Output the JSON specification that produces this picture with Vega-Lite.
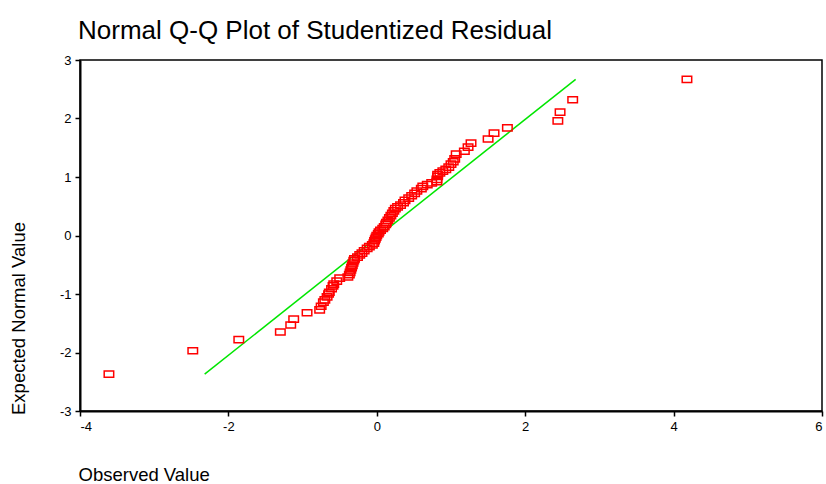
{
  "$schema": "https://vega.github.io/schema/vega-lite/v6.json",
  "width": 742,
  "height": 351,
  "autosize": {"type": "none"},
  "padding": {"left": 80, "top": 60, "right": 4, "bottom": 73},
  "background": "white",
  "config": {
    "font": "Liberation Sans",
    "view": {"stroke": "#000", "strokeWidth": 1.5},
    "axis": {"grid": false, "domainColor": "#000", "domainWidth": 2, "tickColor": "#000", "tickWidth": 1.5, "tickSize": 5, "labelColor": "#000", "labelFontSize": 13, "labelFont": "Liberation Sans", "titleFont": "Liberation Sans", "titleFontWeight": "normal", "titleFontSize": 18.5, "titleColor": "#000", "labelPadding": 4, "labelExpr": "toString(datum.value)"}
  },
  "title": {"text": "Normal Q-Q Plot of Studentized Residual", "anchor": "start", "frame": "group", "fontSize": 26, "fontWeight": "normal", "font": "Liberation Sans", "color": "#000", "baseline": "alphabetic", "offset": -11, "dx": -2},
  "datasets": {
    "pts": [
      {"obs": -3.61, "exp": -2.37}, {"obs": -2.48, "exp": -1.97}, {"obs": -1.86, "exp": -1.78}, {"obs": -1.30, "exp": -1.65},
      {"obs": -1.16, "exp": -1.53}, {"obs": -1.12, "exp": -1.43}, {"obs": -0.94, "exp": -1.32}, {"obs": -0.77, "exp": -1.27},
      {"obs": -0.75, "exp": -1.21}, {"obs": -0.72, "exp": -1.14}, {"obs": -0.70, "exp": -1.10}, {"obs": -0.67, "exp": -1.05},
      {"obs": -0.65, "exp": -1.00}, {"obs": -0.64, "exp": -0.97}, {"obs": -0.61, "exp": -0.91}, {"obs": -0.59, "exp": -0.86},
      {"obs": -0.58, "exp": -0.83}, {"obs": -0.54, "exp": -0.78}, {"obs": -0.50, "exp": -0.73}, {"obs": -0.39, "exp": -0.71},
      {"obs": -0.37, "exp": -0.67}, {"obs": -0.36, "exp": -0.63}, {"obs": -0.35, "exp": -0.59}, {"obs": -0.34, "exp": -0.55},
      {"obs": -0.33, "exp": -0.51}, {"obs": -0.32, "exp": -0.47}, {"obs": -0.31, "exp": -0.43}, {"obs": -0.30, "exp": -0.40},
      {"obs": -0.26, "exp": -0.37}, {"obs": -0.23, "exp": -0.33}, {"obs": -0.20, "exp": -0.30}, {"obs": -0.17, "exp": -0.26},
      {"obs": -0.13, "exp": -0.22}, {"obs": -0.10, "exp": -0.19}, {"obs": -0.06, "exp": -0.16}, {"obs": -0.04, "exp": -0.13},
      {"obs": -0.03, "exp": -0.09}, {"obs": -0.02, "exp": -0.06}, {"obs": -0.01, "exp": -0.03}, {"obs": 0.00, "exp": 0.00},
      {"obs": 0.02, "exp": 0.03}, {"obs": 0.03, "exp": 0.06}, {"obs": 0.05, "exp": 0.09}, {"obs": 0.08, "exp": 0.12},
      {"obs": 0.10, "exp": 0.15}, {"obs": 0.12, "exp": 0.19}, {"obs": 0.13, "exp": 0.22}, {"obs": 0.15, "exp": 0.26},
      {"obs": 0.17, "exp": 0.30}, {"obs": 0.19, "exp": 0.34}, {"obs": 0.21, "exp": 0.38}, {"obs": 0.23, "exp": 0.42},
      {"obs": 0.25, "exp": 0.46}, {"obs": 0.28, "exp": 0.49}, {"obs": 0.32, "exp": 0.52}, {"obs": 0.36, "exp": 0.56},
      {"obs": 0.38, "exp": 0.60}, {"obs": 0.43, "exp": 0.64}, {"obs": 0.47, "exp": 0.68}, {"obs": 0.51, "exp": 0.72},
      {"obs": 0.54, "exp": 0.76}, {"obs": 0.60, "exp": 0.80}, {"obs": 0.62, "exp": 0.84}, {"obs": 0.68, "exp": 0.87},
      {"obs": 0.74, "exp": 0.90}, {"obs": 0.81, "exp": 0.92}, {"obs": 0.81, "exp": 0.96}, {"obs": 0.82, "exp": 1.01},
      {"obs": 0.82, "exp": 1.04}, {"obs": 0.85, "exp": 1.07}, {"obs": 0.89, "exp": 1.10}, {"obs": 0.93, "exp": 1.13},
      {"obs": 0.97, "exp": 1.17}, {"obs": 1.00, "exp": 1.22}, {"obs": 1.03, "exp": 1.26}, {"obs": 1.05, "exp": 1.31},
      {"obs": 1.07, "exp": 1.39}, {"obs": 1.18, "exp": 1.44}, {"obs": 1.23, "exp": 1.51}, {"obs": 1.27, "exp": 1.58},
      {"obs": 1.50, "exp": 1.65}, {"obs": 1.58, "exp": 1.75}, {"obs": 1.76, "exp": 1.84}, {"obs": 2.44, "exp": 1.96},
      {"obs": 2.47, "exp": 2.11}, {"obs": 2.64, "exp": 2.32}, {"obs": 4.18, "exp": 2.67}
    ],
    "ref": [
      {"obs": -2.32, "exp": -2.37},
      {"obs": 2.68, "exp": 2.67}
    ]
  },
  "layer": [
    {
      "data": {"name": "ref"},
      "mark": {"type": "line", "color": "#00e600", "strokeWidth": 1.5},
      "encoding": {
        "x": {"field": "obs", "type": "quantitative"},
        "y": {"field": "exp", "type": "quantitative"}
      }
    },
    {
      "data": {"name": "pts"},
      "mark": {"type": "point", "shape": "M-1,-0.65H1V0.65H-1Z", "size": 90, "filled": false, "color": "#ff0000", "strokeWidth": 1.5, "opacity": 1},
      "encoding": {
        "x": {"field": "obs", "type": "quantitative", "scale": {"domain": [-4, 6], "nice": false, "zero": false},
          "axis": {"values": [-4, -2, 0, 2, 4, 6], "title": "Observed Value", "titleX": -2, "titleY": 69, "titleAlign": "left", "titleBaseline": "alphabetic", "titleAnchor": null}},
        "y": {"field": "exp", "type": "quantitative", "scale": {"domain": [-3, 3], "nice": false, "zero": false},
          "axis": {"values": [-3, -2, -1, 0, 1, 2, 3], "title": "Expected Normal Value", "titleX": -62, "titleY": 258, "titleAngle": -90, "titleAlign": "center", "titleBaseline": "middle"}}
      }
    }
  ]
}
